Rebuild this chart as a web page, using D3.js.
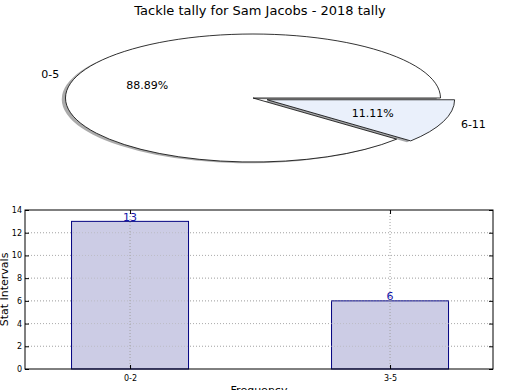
<!DOCTYPE html>
<html>
<head>
<meta charset="utf-8">
<script src="https://d3js.org/d3.v7.min.js"></script>
<style>
  body { margin: 0; background: #fff; }
  text { font-family: "DejaVu Sans", sans-serif; }
</style>
</head>
<body>
<svg id="chart" width="520" height="390"></svg>
<script>
// pie data
var pieLabels = ["0-5", "6-11"];
var pieValues = [8, 1];
var pieColors = ["#ffffff", "#eaf0fb"];
var pieExplode = [0, 0.08];

// bar data
var barCats = ["0-2", "3-5"];
var barValues = [13, 6];
var yTicks = [0, 2, 4, 6, 8, 10, 12, 14];

var svg = d3.select("#chart");

svg.append("text")
  .attr("x", 260).attr("y", 15)
  .attr("text-anchor", "middle")
  .style("font-size", "13px")
  .text("Tackle tally for Sam Jacobs - 2018 tally");

// ---- pie (squashed to an ellipse) ----
var cx = 253, cy = 98, rx = 187.5, ry = 64;
var total = d3.sum(pieValues);

var pie = d3.pie().sort(null)
  .startAngle(Math.PI / 2)
  .endAngle(Math.PI / 2 - 2 * Math.PI);
var arcs = pie(pieValues);
var arc = d3.arc().innerRadius(0).outerRadius(1);

function offset(d, i) {
  var mid = (d.startAngle + d.endAngle) / 2;
  return [Math.sin(mid) * pieExplode[i], -Math.cos(mid) * pieExplode[i]];
}

var pieG = svg.append("g");

// shadows first
arcs.forEach(function(d, i) {
  var o = offset(d, i);
  pieG.append("path")
    .attr("d", arc(d))
    .attr("transform", "translate(" + (cx - 0.02 * rx) + "," + (cy + 0.02 * ry) + ") scale(" + rx + "," + ry + ") translate(" + o[0] + "," + o[1] + ")")
    .attr("fill", d3.color(pieColors[i]).darker(3))
    .attr("fill-opacity", 0.5);
});

arcs.forEach(function(d, i) {
  var o = offset(d, i);
  pieG.append("path")
    .attr("d", arc(d))
    .attr("transform", "translate(" + cx + "," + cy + ") scale(" + rx + "," + ry + ") translate(" + o[0] + "," + o[1] + ")")
    .attr("fill", pieColors[i])
    .attr("stroke", "#000")
    .attr("stroke-width", 0.8)
    .attr("vector-effect", "non-scaling-stroke");
});

arcs.forEach(function(d, i) {
  var mid = (d.startAngle + d.endAngle) / 2;
  var sx = Math.sin(mid), sy = -Math.cos(mid);
  var lr = 1.1 + pieExplode[i], pr = 0.6 + pieExplode[i];
  pieG.append("text")
    .attr("x", cx + sx * lr * rx)
    .attr("y", cy + sy * lr * ry)
    .attr("dy", "0.35em")
    .attr("text-anchor", sx < 0 ? "end" : "start")
    .style("font-size", "11px")
    .text(pieLabels[i]);
  pieG.append("text")
    .attr("x", cx + sx * pr * rx)
    .attr("y", cy + sy * pr * ry)
    .attr("dy", "0.35em")
    .attr("text-anchor", "middle")
    .style("font-size", "11px")
    .text(d3.format(".2f")(pieValues[i] / total * 100) + "%");
});

// ---- bar chart ----
var bLeft = 25, bRight = 493, bTop = 210, bBottom = 369;
var x = d3.scaleLinear().domain([-0.404, 1.396]).range([bLeft, bRight]);
var y = d3.scaleLinear().domain([0, 14]).range([bBottom, bTop]);
var bw = x(0.45) - x(0);

var g = svg.append("g");

// grid
g.selectAll("line.hgrid").data(yTicks.slice(1, -1)).enter().append("line")
  .attr("x1", bLeft).attr("x2", bRight)
  .attr("y1", function(d) { return y(d); }).attr("y2", function(d) { return y(d); })
  .attr("stroke", "#b0b0b0").attr("stroke-dasharray", "1,2");

g.selectAll("rect.bar").data(barValues).enter().append("rect")
  .attr("x", function(d, i) { return x(i) - bw / 2; })
  .attr("y", function(d) { return y(d); })
  .attr("width", bw)
  .attr("height", function(d) { return bBottom - y(d); })
  .attr("fill", "#ccccE5")
  .attr("stroke", "#000080")
  .attr("stroke-width", 1);

g.selectAll("line.vgrid").data(barCats).enter().append("line")
  .attr("x1", function(d, i) { return x(i); }).attr("x2", function(d, i) { return x(i); })
  .attr("y1", bTop).attr("y2", bBottom)
  .attr("stroke", "#a0a0a0").attr("stroke-dasharray", "1,2");

g.selectAll("line.hgrid2").data(yTicks.slice(1, -1)).enter().append("line")
  .attr("x1", bLeft).attr("x2", bRight)
  .attr("y1", function(d) { return y(d); }).attr("y2", function(d) { return y(d); })
  .attr("stroke", "#b0b0b0").attr("stroke-opacity", 0.6).attr("stroke-dasharray", "1,2");

g.selectAll("text.val").data(barValues).enter().append("text")
  .attr("x", function(d, i) { return x(i); })
  .attr("y", function(d) { return y(d); })
  .attr("dy", "-0.05em")
  .attr("text-anchor", "middle")
  .attr("fill", "#1515a8")
  .style("font-size", "11px")
  .text(function(d) { return d; });

// axes
var yAxis = d3.axisLeft(y).tickValues(yTicks).tickSize(-4).tickPadding(3);
var yAx = g.append("g").attr("transform", "translate(" + bLeft + ",0)").call(yAxis);
var yAxR = g.append("g").attr("transform", "translate(" + bRight + ",0)")
  .call(d3.axisRight(y).tickValues(yTicks).tickSize(-4).tickFormat(""));
var xAxis = d3.axisBottom(x).tickValues([0, 1]).tickFormat(function(d) { return barCats[d]; })
  .tickSize(-4).tickPadding(6);
var xAx = g.append("g").attr("transform", "translate(0," + bBottom + ")").call(xAxis);
var xAxT = g.append("g").attr("transform", "translate(0," + bTop + ")")
  .call(d3.axisTop(x).tickValues([0, 1]).tickSize(-4).tickFormat(""));

[yAx, yAxR, xAx, xAxT].forEach(function(a) {
  a.select(".domain").remove();
  a.selectAll("text").style("font-size", "8px").style("font-family", "DejaVu Sans, sans-serif").attr("fill", "#000");
});

g.append("rect")
  .attr("x", bLeft).attr("y", bTop)
  .attr("width", bRight - bLeft).attr("height", bBottom - bTop)
  .attr("fill", "none").attr("stroke", "#000").attr("stroke-width", 1);

svg.append("text")
  .attr("transform", "translate(8," + ((bTop + bBottom) / 2) + ") rotate(-90)")
  .attr("text-anchor", "middle")
  .style("font-size", "11px")
  .text("Stat Intervals");

svg.append("text")
  .attr("x", (bLeft + bRight) / 2).attr("y", 394)
  .attr("text-anchor", "middle")
  .style("font-size", "11px")
  .text("Frequency");
</script>
</body>
</html>
